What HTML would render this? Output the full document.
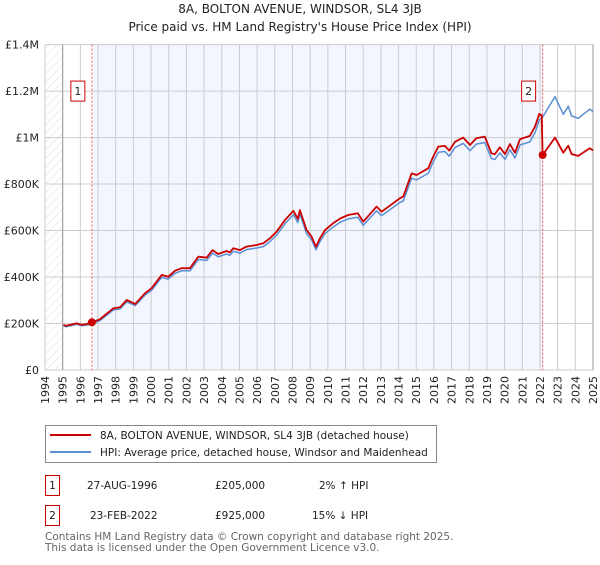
<!DOCTYPE html>
<html><head><meta charset="utf-8"><style>
body{margin:0;background:#fff;font-family:"Liberation Sans","DejaVu Sans",sans-serif}
svg text{font-family:"DejaVu Sans","Liberation Sans",sans-serif}
</style></head><body>
<svg id="c" width="600" height="560" viewBox="0 0 600 560" xmlns="http://www.w3.org/2000/svg">
<defs><pattern id="hatch" width="6" height="6" patternUnits="userSpaceOnUse" patternTransform="rotate(45)"><line x1="0" y1="0" x2="0" y2="6" stroke="#ddd" stroke-width="1"/></pattern></defs>
<text x="300" y="13" text-anchor="middle" font-size="12" fill="#222">8A, BOLTON AVENUE, WINDSOR, SL4 3JB</text>
<text x="300" y="31" text-anchor="middle" font-size="12" fill="#222">Price paid vs. HM Land Registry's House Price Index (HPI)</text>
<g id="plot"></g>
<g>
<rect x="45.5" y="425.5" width="391" height="37" fill="#fff" stroke="#888"/>
<line x1="50" y1="435" x2="91" y2="435" stroke="#cc0000" stroke-width="2"/>
<text x="100" y="439" font-size="10.5" fill="#222">8A, BOLTON AVENUE, WINDSOR, SL4 3JB (detached house)</text>
<line x1="50" y1="452" x2="91" y2="452" stroke="#5b8fd4" stroke-width="2"/>
<text x="100" y="456" font-size="10.5" fill="#222">HPI: Average price, detached house, Windsor and Maidenhead</text>
</g>
<g font-size="10.5" fill="#222">
<rect x="45.5" y="475.5" width="14" height="20" fill="#fff" stroke="#cc0000"/>
<text x="52.5" y="489" text-anchor="middle">1</text>
<text x="87" y="489">27-AUG-1996</text>
<text x="215" y="489">£205,000</text>
<text x="319" y="489">2% ↑ HPI</text>
<rect x="45.5" y="505.5" width="14" height="20" fill="#fff" stroke="#cc0000"/>
<text x="52.5" y="519" text-anchor="middle">2</text>
<text x="90" y="519">23-FEB-2022</text>
<text x="215" y="519">£925,000</text>
<text x="312" y="519">15% ↓ HPI</text>
</g>
<text x="45" y="540" font-size="10.5" fill="#666">Contains HM Land Registry data © Crown copyright and database right 2025.</text>
<text x="45" y="551" font-size="10.5" fill="#666">This data is licensed under the Open Government Licence v3.0.</text>
</svg>
<script>
const yTicks=[0,200000,400000,600000,800000,1000000,1200000,1400000];
const yTickLabels=["£0","£200K","£400K","£600K","£800K","£1M","£1.2M","£1.4M"];
const xTicks=[1994,1995,1996,1997,1998,1999,2000,2001,2002,2003,2004,2005,2006,2007,2008,2009,2010,2011,2012,2013,2014,2015,2016,2017,2018,2019,2020,2021,2022,2023,2024,2025];
const saleYears=[1996.65,2022.15];
const salePrices=[205000,925000];
const saleLabels=["1","2"];
const yearsRed=[1995.04,1995.2,1995.8,1996.1,1996.55,1996.65,1997.1,1997.86,1998.25,1998.62,1999.1,1999.65,2000.03,2000.6,2000.97,2001.35,2001.73,2002.2,2002.67,2003.14,2003.48,2003.8,2004.27,2004.45,2004.65,2005.03,2005.4,2005.97,2006.35,2006.73,2007.1,2007.57,2008.05,2008.3,2008.42,2008.8,2009.08,2009.33,2009.55,2009.84,2010.3,2010.7,2011.15,2011.7,2012.0,2012.76,2013.04,2014.08,2014.27,2014.74,2015.02,2015.68,2015.96,2016.25,2016.62,2016.87,2017.19,2017.66,2018.04,2018.4,2018.88,2019.26,2019.45,2019.73,2020.02,2020.3,2020.58,2020.87,2021.43,2021.72,2021.96,2022.1,2022.15,2022.85,2023.32,2023.6,2023.79,2024.16,2024.82,2025.0];
const valsRed=[194,190,201,194,201,205,218,265,270,301,284,330,352,409,401,427,438,438,488,483,516,499,512,506,524,516,531,538,545,567,595,645,685,650,688,602,574,530,566,602,631,652,667,674,638,703,681,739,746,846,839,868,918,961,964,944,982,1000,968,997,1004,932,929,958,929,972,935,993,1007,1047,1102,1095,925,1000,935,965,929,921,954,945];
const yearsBlue=[1995.04,1995.2,1995.8,1996.1,1996.55,1997.1,1997.86,1998.25,1998.62,1999.1,1999.65,2000.03,2000.6,2000.97,2001.35,2001.73,2002.2,2002.67,2003.14,2003.48,2003.8,2004.27,2004.45,2004.65,2005.03,2005.4,2005.97,2006.35,2006.73,2007.1,2007.57,2008.05,2008.3,2008.42,2008.8,2009.08,2009.33,2009.55,2009.84,2010.3,2010.7,2011.15,2011.7,2012.0,2012.76,2013.04,2014.08,2014.27,2014.74,2015.02,2015.68,2015.96,2016.25,2016.62,2016.87,2017.19,2017.66,2018.04,2018.4,2018.88,2019.26,2019.45,2019.73,2020.02,2020.3,2020.58,2020.87,2021.43,2021.72,2021.96,2022.15,2022.85,2023.32,2023.6,2023.79,2024.16,2024.82,2025.0];
const valsBlue=[190,186,196,190,196,212,258,263,293,277,322,343,399,391,416,427,427,476,471,503,487,499,493,511,503,518,525,531,553,580,629,668,634,671,587,560,517,552,587,615,636,650,657,622,685,664,721,727,825,818,846,895,937,940,920,957,975,944,972,979,909,906,934,906,948,912,968,982,1021,1075,1088,1176,1100,1135,1093,1083,1122,1112];
const L=45,R=593,T=44.6,B=370,X0=1994,X1=2025,YM=1400000;
function xs(y){return L+(y-X0)/(X1-X0)*(R-L);}
function ys(v){return B-v/YM*(B-T);}
const NS="http://www.w3.org/2000/svg";
const g=document.getElementById('plot');
function mk(t,a,p){const e=document.createElementNS(NS,t);for(const k in a)e.setAttribute(k,a[k]);(p||g).appendChild(e);return e;}
let e;
e=mk('rect',{x:L,y:T,width:xs(1995)-L,height:B-T,fill:'url(#hatch)'});


e=mk('rect',{x:xs(saleYears[0]),y:T,width:xs(saleYears[1])-xs(saleYears[0]),height:B-T,fill:'#f3f6fe'});


xTicks.forEach((t,i)=>{
 const x=xs(t);
 const gl=mk('line',{x1:x,y1:T,x2:x,y2:B,stroke:'#ccc','stroke-width':1});
 
 
 const grp=mk('g',{transform:'translate('+(x+4)+','+(B+6)+') rotate(-90)'});
 const tx=mk('text',{x:0,y:0,'font-size':11,fill:'#222','text-anchor':'end'},grp);
 tx.textContent=t;
 
 
});
yTicks.forEach((t,i)=>{
 const y=ys(t);
 const gl=mk('line',{x1:L,y1:y,x2:R,y2:y,stroke:'#ccc','stroke-width':1});
 
 
 const tx=mk('text',{x:L-6,y:y+4,'font-size':11,fill:'#222','text-anchor':'end'});
 tx.textContent=yTickLabels[i];
 
 
});
e=mk('line',{x1:xs(1995),y1:T,x2:xs(1995),y2:B,stroke:'#999'});


e=mk('line',{x1:R,y1:T,x2:R,y2:B,stroke:'#999'});


saleYears.forEach((s,i)=>{
 const l=mk('line',{x1:xs(s),y1:T,x2:xs(s),y2:B,stroke:'#e55','stroke-width':1,'stroke-dasharray':'2,2'});
 
 
});
function path(xsArr,vs,col,w,name){
 const d=xsArr.map((y,i)=>(i?'L':'M')+xs(y).toFixed(1)+','+ys(vs[i]*1000).toFixed(1)).join('');
 const p=mk('path',{d:d,fill:'none',stroke:col,'stroke-width':w,'stroke-linejoin':'round'});
 
 
}
path(yearsBlue,valsBlue,'#5b8fd4',1.5,'hpi-line');
path(yearsRed,valsRed,'#cc0000',1.8,'property-price-line');
saleYears.forEach((s,i)=>{
 const c=mk('circle',{cx:xs(s),cy:ys(salePrices[i]),r:4,fill:'#cc0000'});
 
 
 const bx=xs(s)-14;
 const r=mk('rect',{x:bx-7,y:ys(1200000)-10,width:14,height:20,fill:'#fff',stroke:'#cc0000'});
 
 
 const t=mk('text',{x:bx,y:ys(1200000)+4,'font-size':11,fill:'#222','text-anchor':'middle'});
 t.textContent=saleLabels[i];
 
 
});
</script>
</body></html>
